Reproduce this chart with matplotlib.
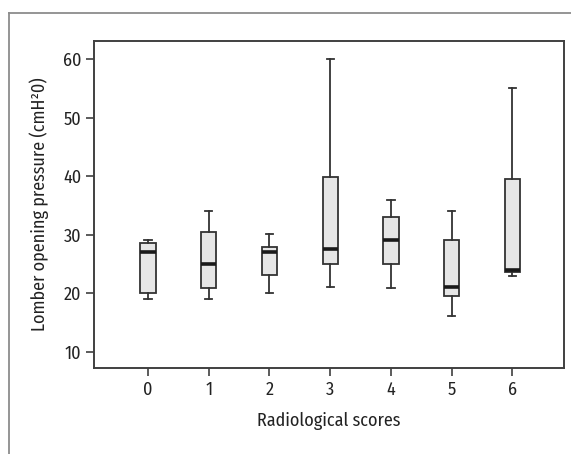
import numpy as np
import matplotlib
matplotlib.use('Agg')
import matplotlib.pyplot as plt
from matplotlib.lines import Line2D

#%% Data
scores = [0, 1, 2, 3, 4, 5, 6]
whislo = [19.0, 19.0, 20.0, 21.1, 21.0, 16.1, 23.0]
q1     = [20.0, 21.0, 23.1, 25.0, 25.1, 19.6, 23.6]
med    = [27.1, 25.1, 27.0, 27.6, 29.1, 21.1, 24.0]
q3     = [28.6, 30.5, 28.0, 39.9, 33.1, 29.1, 39.5]
whishi = [29.1, 34.0, 30.1, 60.0, 36.0, 34.0, 55.0]
yticks = [10, 20, 30, 40, 50, 60]

#%% Plot settings
plt.rcParams['font.family'] = ['Fira Sans Condensed', 'Roboto Condensed', 'PT Sans Narrow',
                               'Open Sans Condensed', 'Barlow Semi Condensed',
                               'Archivo Narrow', 'DejaVu Sans']
plt.rcParams['font.size'] = 12

fig = plt.figure(figsize=(5.71, 4.54), dpi=100)
ax = fig.add_axes([94/571, 1 - 368/454, (564-94)/571, (368-41)/454])

stats = []
for i in range(len(scores)):
    stats.append({'whislo': whislo[i], 'q1': q1[i], 'med': med[i],
                  'q3': q3[i], 'whishi': whishi[i], 'fliers': []})

edge = '#333333'
ax.bxp(stats, positions=scores, widths=0.25, patch_artist=True,
       showfliers=False, capwidths=0.12,
       boxprops=dict(facecolor='#e6e6e6', edgecolor=edge, linewidth=1.3),
       medianprops=dict(color='#1a1a1a', linewidth=2.6),
       whiskerprops=dict(color=edge, linewidth=1.3),
       capprops=dict(color=edge, linewidth=1.3))

ax.set_xlim(-0.89, 6.85)
ax.set_ylim(7.27, 63.1)
ax.set_xticks(scores)
ax.set_xticklabels([str(s) for s in scores])
ax.set_yticks(yticks)

for sp in ax.spines.values():
    sp.set_color('#404040')
    sp.set_linewidth(1.4)
ax.tick_params(direction='out', length=6, width=1.2, color='#404040',
               labelsize=13, labelcolor='#222222', pad=3)

ax.set_xlabel('Radiological scores', fontsize=13, color='#222222', labelpad=10)
ax.set_ylabel('Lomber opening pressure (cmH²0)', fontsize=13, color='#222222', labelpad=10)

# outer frame lines (top and left)
fig.add_artist(Line2D([9/571, 1.0], [1 - 13/454, 1 - 13/454], color='#8c8c8c', lw=1.3,
                      transform=fig.transFigure))
fig.add_artist(Line2D([9/571, 9/571], [0.0, 1 - 13/454], color='#8c8c8c', lw=1.3,
                      transform=fig.transFigure))

plt.savefig('out.png', dpi=100)
